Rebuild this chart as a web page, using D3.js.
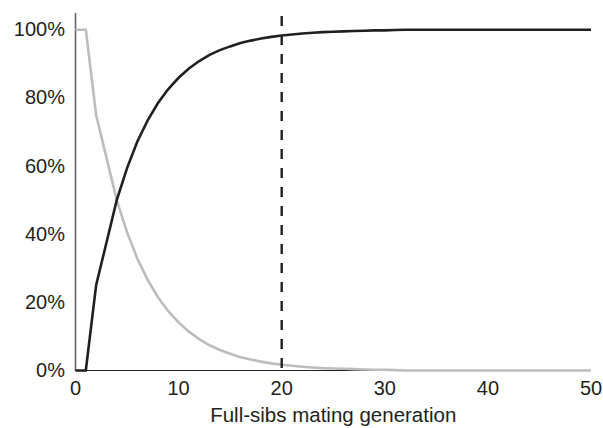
<!DOCTYPE html>
<html><head><meta charset="utf-8">
<script src="https://cdn.jsdelivr.net/npm/d3@7"></script>
<style>
html,body{margin:0;padding:0;background:#fff;}
svg{display:block;font-family:"Liberation Sans",Arial,Helvetica,sans-serif;}
</style>
</head><body>
<svg id="chart" width="603" height="428"></svg>
<script>
const generations = d3.range(0, 51);
const inbreeding = [0,0,0.25,0.375,0.5,0.594,0.672,0.734,0.785,0.826,0.859,0.886,0.908,0.926,0.940,0.951,0.961,0.968,0.974,0.979,0.983,0.986,0.989,0.991,0.993,0.994,0.995,0.996,0.997,0.998,0.998,0.999,1,1,1,1,1,1,1,1,1,1,1,1,1,1,1,1,1,1,1];
const heterozygosity = [1,1,0.75,0.625,0.5,0.406,0.328,0.266,0.215,0.174,0.141,0.114,0.092,0.074,0.060,0.049,0.039,0.032,0.026,0.021,0.017,0.014,0.011,0.009,0.007,0.006,0.005,0.004,0.003,0.002,0.002,0.001,0,0,0,0,0,0,0,0,0,0,0,0,0,0,0,0,0,0,0];
const xTicks = [0,10,20,30,40,50];
const yTicks = [0,0.2,0.4,0.6,0.8,1];
const markerGeneration = 20;
const xTitle = "Full-sibs mating generation";

const svg = d3.select("#chart");
const x = d3.scaleLinear().domain([0,50]).range([75.5,591]);
const y = d3.scaleLinear().domain([0,1]).range([370.5,29.7]);

// y axis line
svg.append("line").attr("x1",75.5).attr("x2",75.5).attr("y1",13).attr("y2",371)
  .attr("stroke","#666").attr("stroke-width",1.6);
// x axis line
svg.append("line").attr("x1",75.5).attr("x2",591).attr("y1",y(0)).attr("y2",y(0))
  .attr("stroke","#231f20").attr("stroke-width",1.2);

// y tick labels
svg.selectAll("text.yt").data(yTicks).enter().append("text")
  .attr("class","yt").attr("x",65).attr("y",d=>y(d)+6.5)
  .attr("text-anchor","end").attr("font-size",20).attr("fill","#231f20")
  .text(d3.format(".0%"));
// x tick labels
svg.selectAll("text.xt").data(xTicks).enter().append("text")
  .attr("class","xt").attr("x",d=>x(d)).attr("y",395)
  .attr("text-anchor","middle").attr("font-size",20).attr("fill","#231f20")
  .text(d=>d);
// x title
svg.append("text").attr("x",(x(0)+x(50))/2).attr("y",421.5)
  .attr("text-anchor","middle").attr("font-size",20.5).attr("fill","#231f20")
  .text(xTitle);

const line = d3.line().x((d,i)=>x(generations[i])).y(d=>y(d));

svg.append("path").datum(heterozygosity).attr("d",line)
  .attr("fill","none").attr("stroke","#bdbdbd").attr("stroke-width",2.6);
svg.append("path").datum(inbreeding).attr("d",line)
  .attr("fill","none").attr("stroke","#231f20").attr("stroke-width",2.6);

// dashed marker
svg.append("line").attr("x1",x(markerGeneration)).attr("x2",x(markerGeneration))
  .attr("y1",y(1.04)).attr("y2",y(0))
  .attr("stroke","#231f20").attr("stroke-width",2.4).attr("stroke-dasharray","10,9");
</script>
</body></html>
